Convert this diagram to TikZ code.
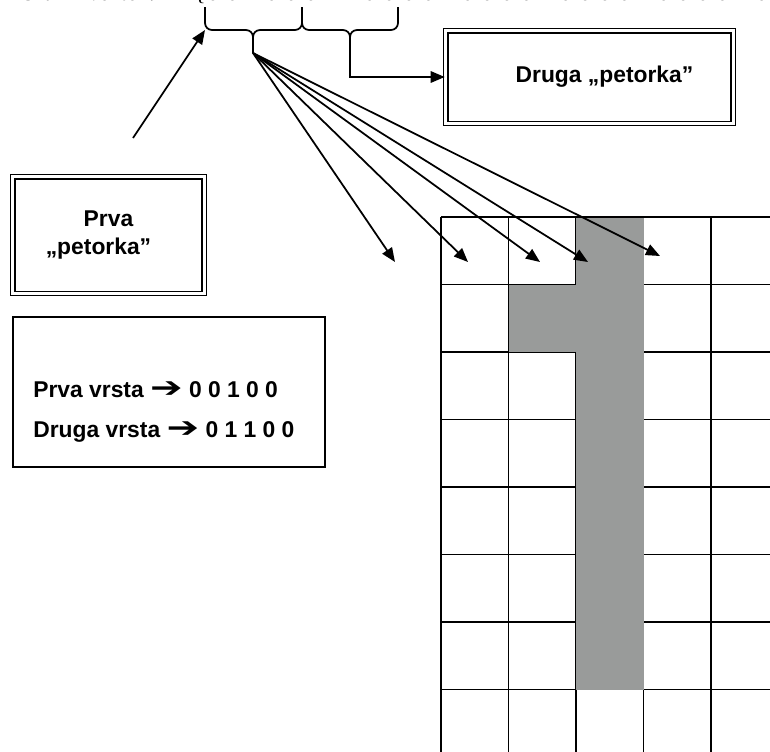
\documentclass[tikz,border=0pt]{standalone}
\usepackage{fontspec}
\setmainfont{Liberation Serif}
\setsansfont{Liberation Sans}
\newfontfamily\dejavu{DejaVu Sans}
\usetikzlibrary{arrows.meta}
\definecolor{sivo}{RGB}{153,155,154}

\newcommand{\strelica}{\scalebox{1.7}[1.25]{\dejavu\bfseries ➔}}

\tikzset{
  arr/.style={line width=1pt, -{Triangle[length=8pt,width=6.5pt]}},
  petorka/.style={draw, line width=0.9pt, double, double distance=1.6pt, align=center,
    font=\sffamily\bfseries\fontsize{13}{16}\selectfont},
  okvir/.style={draw, line width=1.1pt},
  vrsta/.style={anchor=base west, inner sep=0pt, font=\sffamily\bfseries\fontsize{13}{16}\selectfont},
  zagrada/.style={line width=1pt, rounded corners=4pt},
  vektor/.style={anchor=base, inner sep=0pt, font=\fontsize{13.5}{16}\selectfont}
}

\begin{document}
\begin{tikzpicture}[x=0.02cm, y=-0.02cm]
\useasboundingbox (0,0) rectangle (770,751);
\begin{scope}
\clip (0,0) rectangle (770,751);
\node[vektor, anchor=base west, font=\itshape\fontsize{13.5}{16}\selectfont] (naslov) at (20,0.5) {Ulazni vektor:};
\node[vektor] (zag) at (200,0.5) {\{};
\foreach \b [count=\i from 0] in {0,0,1,0,0, 0,1,1,0,0, 0,0,1,0,0, 0,0,1,0,0, 0,0,1,0,0, 0,0,1,0,0, 0,0,1,0,0, 0,0,0,0,0}
  \node[vektor] (b\i) at (213+\i*19.6,0.5) {\b};

\foreach \k in {1,...,5} \draw[line width=0.8pt] (441+\k*67.5,217) -- (441+\k*67.5,760);
\foreach \r in {0,...,8} \draw[line width=0.8pt] (441,217+\r*67.5) -- (780,217+\r*67.5);
\draw[line width=1.3pt] (441,217) -- (441,760);
\fill[sivo] (576,217.6) rectangle (643.5,689.5);
\fill[sivo] (508.5,284.5) rectangle (576,352);
\end{scope}

\draw[zagrada] (205,7) -- (205,30) -- (253,30) -- (253,53);
\draw[zagrada] (253,53) -- (253,30) -- (302,30) -- (302,7);
\draw[zagrada] (302,7) -- (302,30) -- (350,30) -- (350,53);
\draw[zagrada] (350,53) -- (350,30) -- (398,30) -- (398,7);
\coordinate (vrhA) at (253,53);
\coordinate (vrhB) at (350,53);
\coordinate (krajA) at (205,30);
\coordinate (pocetak) at (133,138);

\node[petorka, minimum width=3.84cm, minimum height=2.34cm] (prva) at (108.5,235) {Prva\\„petorka”\hspace*{0.4cm}};
\node[petorka, minimum width=5.76cm, minimum height=1.86cm] (druga) at (589.5,77) {\hspace*{0.6cm}Druga „petorka”};
\node[okvir, minimum width=6.24cm, minimum height=3cm] (vrste) at (169,392) {};
\node[vrsta] (prvavrsta) at (33,397) {Prva vrsta \strelica{} 0 0 1 0 0};
\node[vrsta] (drugavrsta) at (33,437) {Druga vrsta \strelica{} 0 1 1 0 0};

\coordinate (c1) at (395,262);
\coordinate (c2) at (468,262);
\coordinate (c3) at (540,262);
\coordinate (c4) at (588,262);
\coordinate (c5) at (660,256);
\foreach \c in {c1,c2,c3,c4,c5}
  \draw[arr] (vrhA) -- (\c);
\draw[arr] (pocetak) -- (krajA);
\draw[arr] (vrhB) |- (druga.west);
\end{tikzpicture}
\end{document}
